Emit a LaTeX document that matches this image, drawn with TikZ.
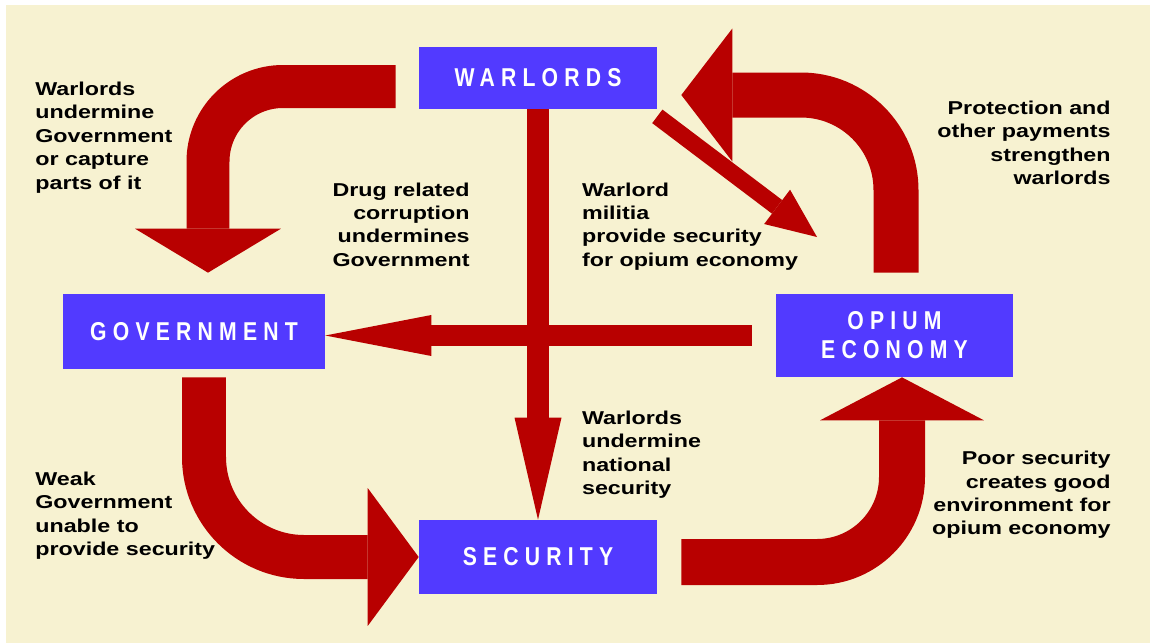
\documentclass[tikz,border=0pt]{standalone}
\usepackage{fontspec}
\setmainfont{Liberation Sans}
\newfontfamily\boxfont{Liberation Sans}[FakeStretch=0.82,LetterSpace=24]
\newfontfamily\lblfont{Liberation Sans}[FakeStretch=1.25]
\usetikzlibrary{positioning, arrows.meta, calc}
\definecolor{bgcream}{RGB}{247,242,209}
\definecolor{boxblue}{RGB}{82,58,255}
\definecolor{arrowred}{RGB}{184,0,0}

\begin{document}
\begin{tikzpicture}[x=0.02cm, y=-0.02cm,
    box/.style={fill=boxblue, text=white, inner sep=0pt, align=center,
      font=\boxfont\bfseries\fontsize{14.7pt}{16.5pt}\selectfont},
    lbl/.style={inner sep=0pt, font=\lblfont\bfseries\fontsize{10.6pt}{13.3pt}\selectfont},
    redarrow/.style n args={3}{draw=arrowred, line width=#1,
      -{Triangle[length=#2, width=#3, line width=0pt]}}]
    % Background
    \useasboundingbox (0,0) rectangle (1150,643);
    \fill[white] (0,0) rectangle (1150,643);
    \fill[bgcream] (6,5) rectangle (1150,643);

    % Boxes
    \node[box, minimum width=4.76cm, minimum height=1.24cm] (wl) at (538,78) {WARLORDS};
    \node[box, minimum width=5.24cm, minimum height=1.5cm] (gov) at (194,331.5) {GOVERNMENT};
    \node[box, minimum width=4.74cm, minimum height=1.66cm] (op) at (894.5,335.5) {OPIUM\\ECONOMY};
    \node[box, minimum width=4.76cm, minimum height=1.48cm] (sec) at (538,557) {SECURITY};
    \coordinate (diagtip) at (817,237);

    % Curved arrows
    \draw[redarrow={0.86cm}{0.88cm}{2.92cm}, rounded corners=1.5cm]
        ([shift={(-23,8.5)}]wl.west) -| ([shift={(14,-21)}]gov.north);
    \draw[redarrow={0.9cm}{1.02cm}{2.66cm}, rounded corners=1.9cm]
        ([shift={(1.5,-21)}]op.north) |- ([shift={(24,17)}]wl.east);
    \draw[redarrow={0.88cm}{1.02cm}{2.76cm}, rounded corners=2cm]
        ([shift={(10,8)}]gov.south) |- (sec.west);
    \draw[redarrow={0.92cm}{0.86cm}{3.28cm}, rounded corners=1.7cm]
        ([shift={(24,5)}]sec.east) -| ([shift={(7.5,0)}]op.south);

    % Straight arrows
    \draw[redarrow={0.34cm}{1cm}{0.86cm}] ([shift={(0,7)}]wl.south east) -- (diagtip);
    \draw[redarrow={0.44cm}{2.04cm}{0.94cm}] (wl.south) -- (sec.north);
    \draw[redarrow={0.42cm}{2.12cm}{0.82cm}] ([shift={(-24,0)}]op.west) -- (gov.east |- op.west);

    % Labels
    \node[lbl, anchor=north west, align=left] (lblwg) at (35,81.7)
        {Warlords\\undermine\\Government\\or capture\\parts of it};
    \node[lbl, anchor=north east, align=right] (lbldrug) at (470,182.3)
        {Drug related\\corruption\\undermines\\Government};
    \node[lbl, anchor=north west, align=left] (lblmil) at (581.7,182.3)
        {Warlord\\militia\\provide security\\for opium economy};
    \node[lbl, anchor=north east, align=right] (lblprot) at (1111,100.5)
        {Protection and\\other payments\\strengthen\\warlords};
    \node[lbl, anchor=north west, align=left] (lblweak) at (35,471.7)
        {Weak\\Government\\unable to\\provide security};
    \node[lbl, anchor=north west, align=left] (lblnat) at (581.7,410.7)
        {Warlords\\undermine\\national\\security};
    \node[lbl, anchor=north east, align=right] (lblpoor) at (1111,451)
        {Poor security\\creates good\\environment for\\opium economy};
\end{tikzpicture}
\end{document}
